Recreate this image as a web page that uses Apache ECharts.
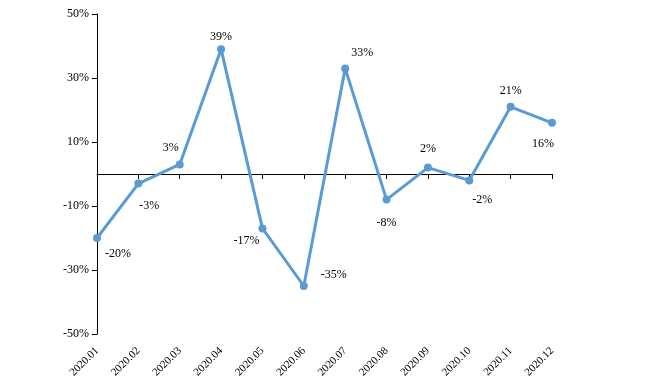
<!DOCTYPE html>
<html><head><meta charset="utf-8">
<script src="https://cdn.jsdelivr.net/npm/echarts@6/dist/echarts.min.js"></script>
<style>html,body{margin:0;padding:0;background:#fff}#c{width:652px;height:385px}</style>
</head><body><div id="c"></div>
<script>
const categories = ['2020.01','2020.02','2020.03','2020.04','2020.05','2020.06','2020.07','2020.08','2020.09','2020.10','2020.11','2020.12'];
const values = [-20, -3, 3, 39, -17, -35, 33, -8, 2, -2, 21, 16];
const yTickValues = [-50, -30, -10, 10, 30, 50];
// label offsets (style only)
const labelOffsets = [[21,16],[11,22],[-9,-17],[0,-12],[-16,12],[30,-11],[17,-16],[0,23],[0,-19],[13,19],[0,-16],[-9,21]];

const FONT = '"Liberation Serif","Times New Roman",serif';
const chart = echarts.init(document.getElementById('c'));
chart.setOption({
  animation: false,
  grid: {left: 97, right: 100, top: 14, bottom: 51},
  xAxis: [{
    type: 'category', data: categories, boundaryGap: false, position: 'bottom',
    axisLine: {show: false, onZero: false}, axisTick: {show: false},
    axisLabel: {rotate: 45, margin: 15, color: '#000', fontFamily: FONT, fontSize: 11, interval: 0}
  }, {
    type: 'category', data: categories, boundaryGap: false, position: 'bottom',
    axisLine: {show: true, onZero: true, lineStyle: {color: '#000', width: 1}},
    axisTick: {show: true, length: 5, alignWithLabel: true, interval: 0, lineStyle: {color: '#000'}},
    axisLabel: {show: false}
  }],
  yAxis: {
    type: 'value', min: -50, max: 50, interval: 10,
    axisLine: {show: true, lineStyle: {color: '#000', width: 1}},
    axisTick: {show: true, length: 5, customValues: yTickValues, lineStyle: {color: '#000'}},
    axisLabel: {customValues: yTickValues, formatter: v => v + '%', color: '#000', fontFamily: FONT, fontSize: 12, margin: 8},
    splitLine: {show: false}
  },
  series: [{
    type: 'line', xAxisIndex: 0,
    data: values.map((v, i) => ({value: v, label: {offset: labelOffsets[i]}})),
    lineStyle: {color: '#5b9bd5', width: 3},
    itemStyle: {color: '#5b9bd5'},
    symbol: 'circle', symbolSize: 8,
    label: {show: true, position: 'inside', formatter: p => p.value + '%', color: '#000', fontFamily: FONT, fontSize: 12}
  }]
});
</script></body></html>
